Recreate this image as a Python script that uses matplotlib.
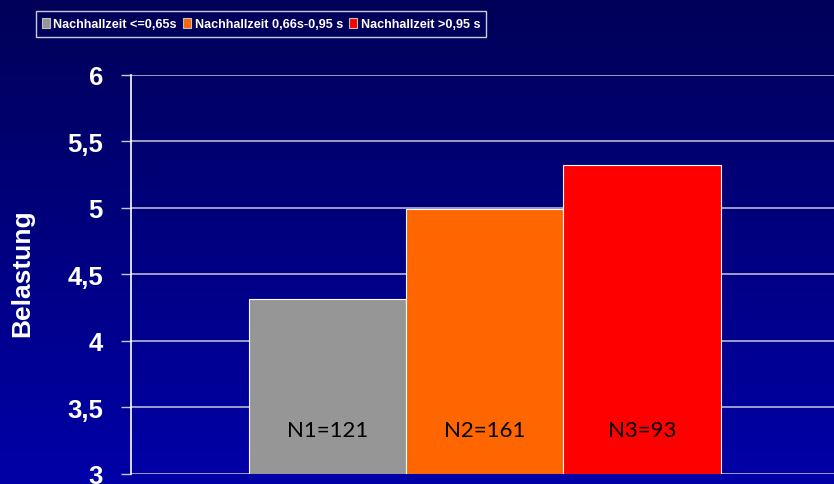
import numpy as np
import matplotlib
matplotlib.use('Agg')
import matplotlib.pyplot as plt

series = ['Nachhallzeit <=0,65s', 'Nachhallzeit 0,66s-0,95 s', 'Nachhallzeit >0,95 s']
values = [4.31, 4.99, 5.32]
counts = ['N1=121', 'N2=161', 'N3=93']
colors = ['#969696', '#ff6600', '#ff0000']
yticks = [3, 3.5, 4, 4.5, 5, 5.5, 6]
yticklabels = ['3', '3,5', '4', '4,5', '5', '5,5', '6']

fig = plt.figure(figsize=(8.34, 4.85), dpi=100)

# background gradient
bg = fig.add_axes([0, 0, 1, 1], zorder=0)
grad = np.linspace(0, 1, 256).reshape(-1, 1)
top = np.array([0, 0, 0x58]) / 255.0
bot = np.array([0, 0, 0xa8]) / 255.0
img = top + grad[:, :, None] * (bot - top)
bg.imshow(img, aspect='auto', extent=[0, 1, 0, 1])
bg.set_axis_off()

ax = fig.add_axes([0.1567, 0.0216, 0.849, 0.8223], zorder=1)
ax.set_facecolor('none')

x = np.arange(len(values)) - 1
bars = ax.bar(x, values, width=1.0, color=colors, edgecolor='white',
              linewidth=0.8, label=series, zorder=3)
for xi, c in zip(x, counts):
    ax.text(xi, 3.33, c, ha='center', va='center', fontsize=16,
            family=['Lato', 'DejaVu Sans'], color='black', zorder=4)

ax.set_xlim(-2.25, 2.25)
ax.set_ylim(3, 6)
ax.set_yticks(yticks)
ax.set_yticklabels(yticklabels)
ax.set_xticks([])
ax.grid(axis='y', color='#c8c8d8', linewidth=1.1, zorder=1)
for s in ['top', 'right', 'bottom']:
    ax.spines[s].set_visible(False)
ax.spines['left'].set_color('white')
ax.spines['left'].set_linewidth(1.2)
ax.tick_params(axis='y', length=7, width=1.0, color='#c8c8d8', pad=13,
               labelsize=18.5, labelcolor='white')
for t in ax.get_yticklabels():
    t.set_fontfamily(['Liberation Sans', 'DejaVu Sans'])
    t.set_fontweight('bold')

fig.text(22 / 834, 1 - 273 / 485, 'Belastung', rotation=90, ha='center',
         va='center', color='white', fontsize=19, fontweight='bold',
         family=['Liberation Sans', 'DejaVu Sans'])

leg = fig.legend(handles=bars, labels=series, loc='center', ncol=3,
                 bbox_to_anchor=(261 / 834, 1 - 25 / 485),
                 prop={'family': ['Liberation Sans', 'DejaVu Sans'],
                       'weight': 'bold', 'size': 9.1},
                 frameon=True, fancybox=False, handlelength=0.6,
                 handleheight=0.9, handletextpad=0.3, columnspacing=0.5,
                 borderpad=0.5)
leg.get_frame().set_facecolor('none')
leg.get_frame().set_edgecolor('white')
leg.get_frame().set_linewidth(1.0)
for t in leg.get_texts():
    t.set_color('white')
for h in leg.legend_handles:
    h.set_edgecolor('#c0c0c0')

fig.savefig('out.png', dpi=100)
